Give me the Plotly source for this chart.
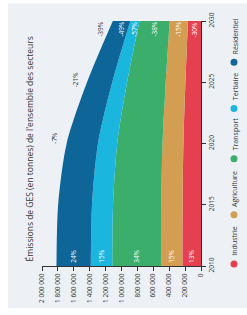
import plotly.graph_objects as go

years = [2010, 2015, 2020, 2025, 2030]
sectors = ["Industrie", "Agriculture", "Transport", "Tertiaire", "Résidentiel"]
industrie = [234000, 232000, 221000, 196000, 164000]
agriculture = [270000, 269000, 263000, 248000, 230000]
transport = [612000, 605000, 570000, 486000, 379000]
tertiaire = [270000, 265000, 242000, 187000, 116000]
residentiel = [432000, 426000, 394000, 317000, 220000]
share_2010 = ["13%", "15%", "34%", "15%", "24%"]
change_2030 = ["-30%", "-15%", "-38%", "-57%", "-49%"]
total_change_years = [2020, 2025, 2030]
total_change_labels = ["-7%", "-21%", "-39%"]
x_ticks = [0, 200000, 400000, 600000, 800000, 1000000, 1200000, 1400000, 1600000, 1800000, 2000000]

colors = ["#e5404f", "#d39d52", "#3aae6a", "#1ab6de", "#0e6598"]
series = [industrie, agriculture, transport, tertiaire, residentiel]

W, H = 247, 315
L, R, T, B = 42, 46, 18, 48
PW, PH = W - L - R, H - T - B


def px(x):
    return (x - L) / PW


def py(y):
    return (H - B - y) / PH


fig = go.Figure()
for name, vals, c in zip(sectors, series, colors):
    fig.add_trace(go.Scatter(
        x=vals, y=years, name=name, orientation="h", stackgroup="one",
        mode="lines", line=dict(width=0, shape="spline", smoothing=0.8),
        fillcolor=c, showlegend=False, hoverinfo="skip"))

annotations = []
shapes = []
# panel background
shapes.append(dict(type="rect", xref="paper", yref="paper", x0=px(8), x1=px(247),
                   y0=py(310), y1=py(0), fillcolor="#edf1f6", line=dict(width=0), layer="below"))

# band labels
cum0 = 0
cum30 = 0
for i, vals in enumerate(series):
    annotations.append(dict(x=cum0 + vals[0] / 2, y=2010.8, xref="x", yref="y", text=share_2010[i],
                            textangle=-90, showarrow=False, font=dict(size=6.5, color="white")))
    annotations.append(dict(x=cum30 + vals[-1] / 2, y=2029.35, xref="x", yref="y", text=change_2030[i],
                            textangle=-90, showarrow=False, font=dict(size=6.5, color="white")))
    cum0 += vals[0]
    cum30 += vals[-1]

totals = [sum(s[k] for s in series) for k in range(len(years))]
label_y = [2020.45, 2025.25, 2029.35]
for yr, lab, ly in zip(total_change_years, total_change_labels, label_y):
    t = totals[years.index(yr)]
    annotations.append(dict(x=t + 150000, y=ly, xref="x", yref="y", text=lab, textangle=-90,
                            showarrow=False, font=dict(size=6.5, color="#333333")))

# title
annotations.append(dict(x=px(22), y=py(148), xref="paper", yref="paper",
                        text="Émissions de GES (en tonnes) de l'ensemble des secteurs",
                        textangle=-90, showarrow=False, font=dict(size=8.5, color="#333333")))

# legend
marker_y = [265, 215, 158, 107, 60]
for name, c, my in zip(sectors, colors, marker_y):
    shapes.append(dict(type="circle", xref="paper", yref="paper", xsizemode="pixel", ysizemode="pixel",
                       xanchor=px(234), yanchor=py(my), x0=-3.5, x1=3.5, y0=-3.5, y1=3.5,
                       fillcolor=c, line=dict(width=0)))
    annotations.append(dict(x=px(235), y=py(my - 6), xref="paper", yref="paper", text=name,
                            textangle=-90, showarrow=False, yanchor="bottom", xanchor="center",
                            font=dict(size=7, color="#333333")))

fig.update_layout(
    width=W, height=H, margin=dict(l=L, r=R, t=T, b=B, pad=0),
    paper_bgcolor="white", plot_bgcolor="rgba(0,0,0,0)",
    font=dict(family="Open Sans", color="#333333"),
    separators=", ",
    annotations=annotations, shapes=shapes, showlegend=False,
    xaxis=dict(range=[2000000, 0], tickvals=x_ticks, tickformat=",d", tickangle=-90,
               showgrid=False, zeroline=False, showline=True, linecolor="#333333", linewidth=1,
               ticks="outside", ticklen=4, tickcolor="#333333", tickfont=dict(size=6.5)),
    yaxis=dict(range=[2010, 2030], side="right", tickvals=[2010, 2015, 2020, 2025, 2030],
               tickangle=-90, showgrid=False, zeroline=False, showline=True, linecolor="#3a2a30",
               linewidth=1, ticks="outside", ticklen=4, tickcolor="#333333", tickfont=dict(size=6.5)),
)

fig.write_html("out.html", config={"displayModeBar": False},
               post_script="document.body.style.margin='0';document.body.style.overflow='hidden';")
